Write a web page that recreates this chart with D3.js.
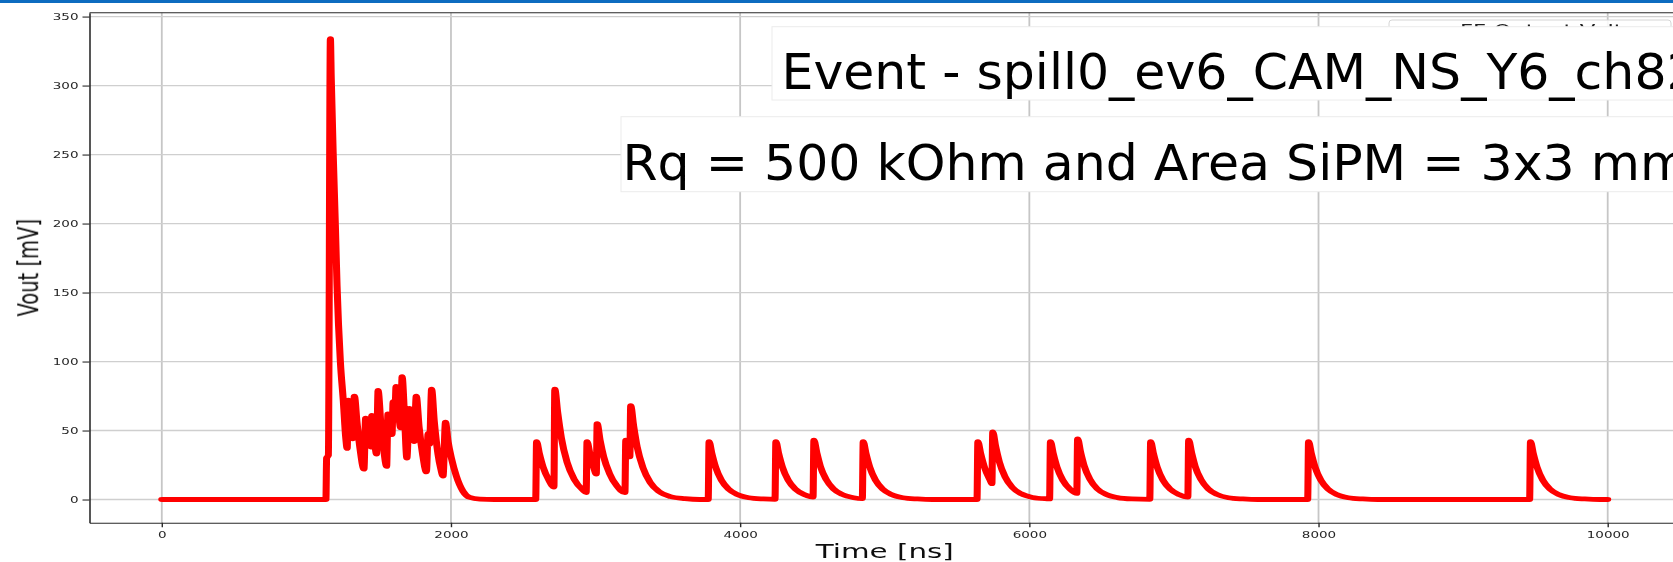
<!DOCTYPE html>
<html>
<head>
<meta charset="utf-8">
<script src="https://cdn.jsdelivr.net/npm/d3@7/dist/d3.min.js"></script>
<style>
  html, body { margin: 0; padding: 0; background: #ffffff; }
  svg { display: block; }
  text { font-family: "DejaVu Sans", sans-serif; }
</style>
</head>
<body>
<svg id="chart" width="1673" height="562"></svg>
<script>
// ---- Data: FF output voltage waveform, [time ns, Vout mV] ----
const baselineHead = [[0, 0], [1135, 0]];

const burst = [
  [1140, 30], [1152, 32], [1166, 334], [1172, 305], [1185, 252], [1200, 200],
  [1212, 155], [1235, 100], [1255, 72], [1272, 45], [1282, 37], [1290, 72],
  [1305, 55], [1320, 44], [1332, 75], [1350, 56], [1372, 36], [1398, 22],
  [1410, 59], [1428, 44], [1445, 38], [1452, 61], [1468, 46], [1485, 33],
  [1496, 79], [1515, 55], [1535, 36], [1555, 24], [1564, 62], [1580, 50],
  [1592, 47], [1600, 71], [1612, 60], [1620, 82], [1638, 62], [1652, 52],
  [1662, 89], [1678, 62], [1695, 30], [1712, 66], [1730, 48], [1745, 42],
  [1760, 75], [1780, 52], [1805, 32], [1830, 20], [1842, 48], [1852, 40],
  [1866, 80], [1885, 56], [1910, 33], [1930, 22], [1945, 17], [1962, 56],
  [1980, 42], [2003, 30], [2037, 17], [2083, 6], [2130, 1.5], [2200, 0.3],
  [2300, 0]
];

const afterPulsesA = [
  [2586, 0], [2592, 42], [2612, 33], [2637, 23.5], [2677, 14], [2712, 9],
  [2718, 80], [2738, 63], [2763, 45], [2803, 27], [2853, 14.5], [2913, 6.8], [2935, 5],
  [2941, 42], [2961, 33], [2986, 23.5], [3005, 18.5],
  [3011, 55], [3031, 43], [3056, 31], [3096, 19], [3146, 10], [3203, 5],
  [3209, 43], [3225, 35], [3237, 31],
  [3243, 68], [3263, 53.5], [3288, 38], [3328, 23], [3378, 12.3], [3438, 5.8],
  [3518, 2.1], [3618, 0.6], [3720, 0]
];

const afterPulsesB = [
  [3779, 0], [3785, 42], [3805, 33], [3830, 23.5], [3870, 14], [3920, 7.5],
  [3980, 3.6], [4060, 1.3], [4160, 0.4], [4241, 0.1],
  [4247, 42], [4267, 33], [4292, 23.5], [4332, 14], [4382, 7.5], [4442, 3.6], [4504, 1.8],
  [4510, 43], [4530, 34], [4555, 24], [4595, 14.5], [4645, 7.7], [4705, 3.7], [4785, 1.3], [4845, 0.6],
  [4851, 42], [4871, 33], [4896, 23.5], [4936, 14], [4986, 7.5], [5046, 3.6],
  [5126, 1.3], [5226, 0.4], [5330, 0]
];

const afterPulsesC = [
  [5638, 0], [5644, 42], [5664, 33], [5689, 23.5], [5729, 14], [5741, 11.5],
  [5747, 49], [5767, 38.5], [5792, 27.5], [5832, 16.5], [5882, 8.8], [5942, 4.2],
  [6022, 1.5], [6122, 0.5], [6140, 0.4],
  [6146, 42], [6166, 33], [6191, 23.5], [6231, 14], [6281, 7.5], [6328, 4.4],
  [6334, 44], [6354, 34.5], [6379, 24.5], [6419, 14.7], [6469, 7.8], [6529, 3.8],
  [6609, 1.4], [6709, 0.4], [6833, 0.1],
  [6839, 42], [6859, 33], [6884, 23.5], [6924, 14], [6974, 7.5], [7034, 3.6], [7096, 1.7],
  [7102, 43], [7122, 34], [7147, 24], [7187, 14.5], [7237, 7.7], [7297, 3.7],
  [7377, 1.3], [7477, 0.4], [7580, 0]
];

const afterPulsesD = [
  [7925, 0], [7931, 42], [7951, 33], [7976, 23.5], [8016, 14], [8066, 7.5],
  [8126, 3.6], [8206, 1.3], [8306, 0.4], [8410, 0],
  [9460, 0], [9466, 42], [9486, 33], [9511, 23.5], [9551, 14], [9601, 7.5],
  [9661, 3.6], [9741, 1.3], [9841, 0.4], [9945, 0], [10000, 0]
];

const xTicks = [0, 2000, 4000, 6000, 8000, 10000];
const yTicks = [0, 50, 100, 150, 200, 250, 300, 350];

const titleLine1 = "Event - spill0_ev6_CAM_NS_Y6_ch82";
const titleLine2 = "Rq = 500 kOhm and Area SiPM = 3x3 mm²";
const legendLabel = "FF Output Voltage";
const xLabel = "Time [ns]";
const yLabel = "Vout [mV]";

// ---- Layout ----
const W = 1673, H = 562;
const plot = { left: 89.5, right: 1680, top: 12.7, bottom: 522.7 };
const sx = 1.47;   // horizontal stretch of the plot artwork

const svg = d3.select("#chart");

// soft look for the plot artwork
const defs = svg.append("defs");
defs.append("filter").attr("id", "soft")
  .append("feGaussianBlur").attr("stdDeviation", 0.45);

// blue top strip
svg.append("rect").attr("x", 0).attr("y", 0).attr("width", W).attr("height", 3)
  .attr("fill", "#0d6cc0");

const x = d3.scaleLinear().domain([-500, 10500]).range([plot.left, plot.right]);
const y = d3.scaleLinear().domain([-16.8, 352.8]).range([plot.bottom, plot.top]);

const g = svg.append("g").attr("filter", "url(#soft)");

// grid
g.append("g").selectAll("line").data(xTicks).join("line")
  .attr("x1", d => x(d)).attr("x2", d => x(d))
  .attr("y1", plot.top).attr("y2", plot.bottom)
  .attr("stroke", "#c6c6c6").attr("stroke-width", 1.8);
g.append("g").selectAll("line").data(yTicks).join("line")
  .attr("x1", plot.left).attr("x2", plot.right)
  .attr("y1", d => y(d)).attr("y2", d => y(d))
  .attr("stroke", "#cfcfcf").attr("stroke-width", 1.3);

// waveform, drawn with a horizontally stretched pen
const wave = [].concat(baselineHead, burst, afterPulsesA, afterPulsesB, afterPulsesC, afterPulsesD);
const xInner = d3.scaleLinear().domain(x.domain()).range(x.range().map(v => v / sx));
const line = d3.line()
  .x(d => xInner(d[0]))
  .y(d => y(d[1]))
  .curve(d3.curveMonotoneX);
g.append("g").attr("transform", `scale(${sx},1)`)
  .append("path")
  .datum(wave)
  .attr("d", line)
  .attr("fill", "none")
  .attr("stroke", "#ff0000")
  .attr("stroke-width", 4.8)
  .attr("stroke-linejoin", "round")
  .attr("stroke-linecap", "round");

// axes
const yAxis = g.append("g").attr("transform", `translate(${plot.left},0)`)
  .call(d3.axisLeft(y).tickValues(yTicks).tickFormat(d3.format("d")).tickSize(7).tickSizeOuter(0));
yAxis.select(".domain").attr("stroke", "#2a2a2a").attr("stroke-width", 1.6);
yAxis.selectAll(".tick line").attr("stroke", "#2a2a2a").attr("stroke-width", 1.1);
yAxis.selectAll(".tick text")
  .attr("x", -11 / sx).attr("dy", "0.36em")
  .attr("transform", `scale(${sx},1)`)
  .attr("font-size", 9.2).attr("fill", "#262626")
  .style("font-family", "DejaVu Sans");

const xAxis = g.append("g").attr("transform", `translate(0,${plot.bottom})`)
  .call(d3.axisBottom(x).tickValues(xTicks).tickFormat(d3.format("d")).tickSize(4.5).tickSizeOuter(0));
xAxis.select(".domain").attr("stroke", "#2a2a2a").attr("stroke-width", 1.1);
xAxis.selectAll(".tick line").attr("stroke", "#2a2a2a").attr("stroke-width", 1.4);
xAxis.selectAll(".tick text")
  .attr("y", 8.5)
  .attr("transform", `scale(${sx},1)`)
  .attr("font-size", 9.2).attr("fill", "#262626")
  .style("font-family", "DejaVu Sans");

// top spine
g.append("line")
  .attr("x1", plot.left).attr("x2", plot.right)
  .attr("y1", plot.top).attr("y2", plot.top)
  .attr("stroke", "#2a2a2a").attr("stroke-width", 1.1);

// axis labels
g.append("text")
  .attr("transform", `translate(${(plot.left + plot.right) / 2},558) scale(${sx},1)`)
  .attr("text-anchor", "middle").attr("font-size", 20).attr("fill", "#111")
  .text(xLabel);
g.append("text")
  .attr("transform", `translate(38,${(plot.top + plot.bottom) / 2}) scale(${sx},1) rotate(-90)`)
  .attr("text-anchor", "middle").attr("font-size", 19.5).attr("fill", "#111")
  .text(yLabel);

// legend
const leg = g.append("g");
leg.append("rect").attr("x", 1389).attr("y", 20).attr("width", 282).attr("height", 40)
  .attr("rx", 3).attr("fill", "#ffffff").attr("fill-opacity", 0.85)
  .attr("stroke", "#d6d6d6").attr("stroke-width", 1);
leg.append("line").attr("x1", 1400).attr("x2", 1450).attr("y1", 31).attr("y2", 31)
  .attr("stroke", "#ff0000").attr("stroke-width", 4.8);
leg.append("text")
  .attr("transform", `translate(1460,35.5) scale(${sx},1)`)
  .attr("font-size", 15.5).attr("fill", "#222")
  .text(legendLabel);

// title boxes
const titles = svg.append("g");
titles.append("rect").attr("x", 772).attr("y", 26.7).attr("width", 920).attr("height", 73.3)
  .attr("fill", "#ffffff").attr("stroke", "#ececec").attr("stroke-width", 1);
titles.append("text").attr("x", 781.5).attr("y", 89)
  .attr("font-size", 50.5).attr("fill", "#000")
  .text(titleLine1);
titles.append("rect").attr("x", 621).attr("y", 116.7).attr("width", 1070).attr("height", 75)
  .attr("fill", "#ffffff").attr("stroke", "#ececec").attr("stroke-width", 1);
titles.append("text").attr("x", 622.5).attr("y", 180)
  .attr("font-size", 50.5).attr("fill", "#000")
  .text(titleLine2);
</script>
</body>
</html>
